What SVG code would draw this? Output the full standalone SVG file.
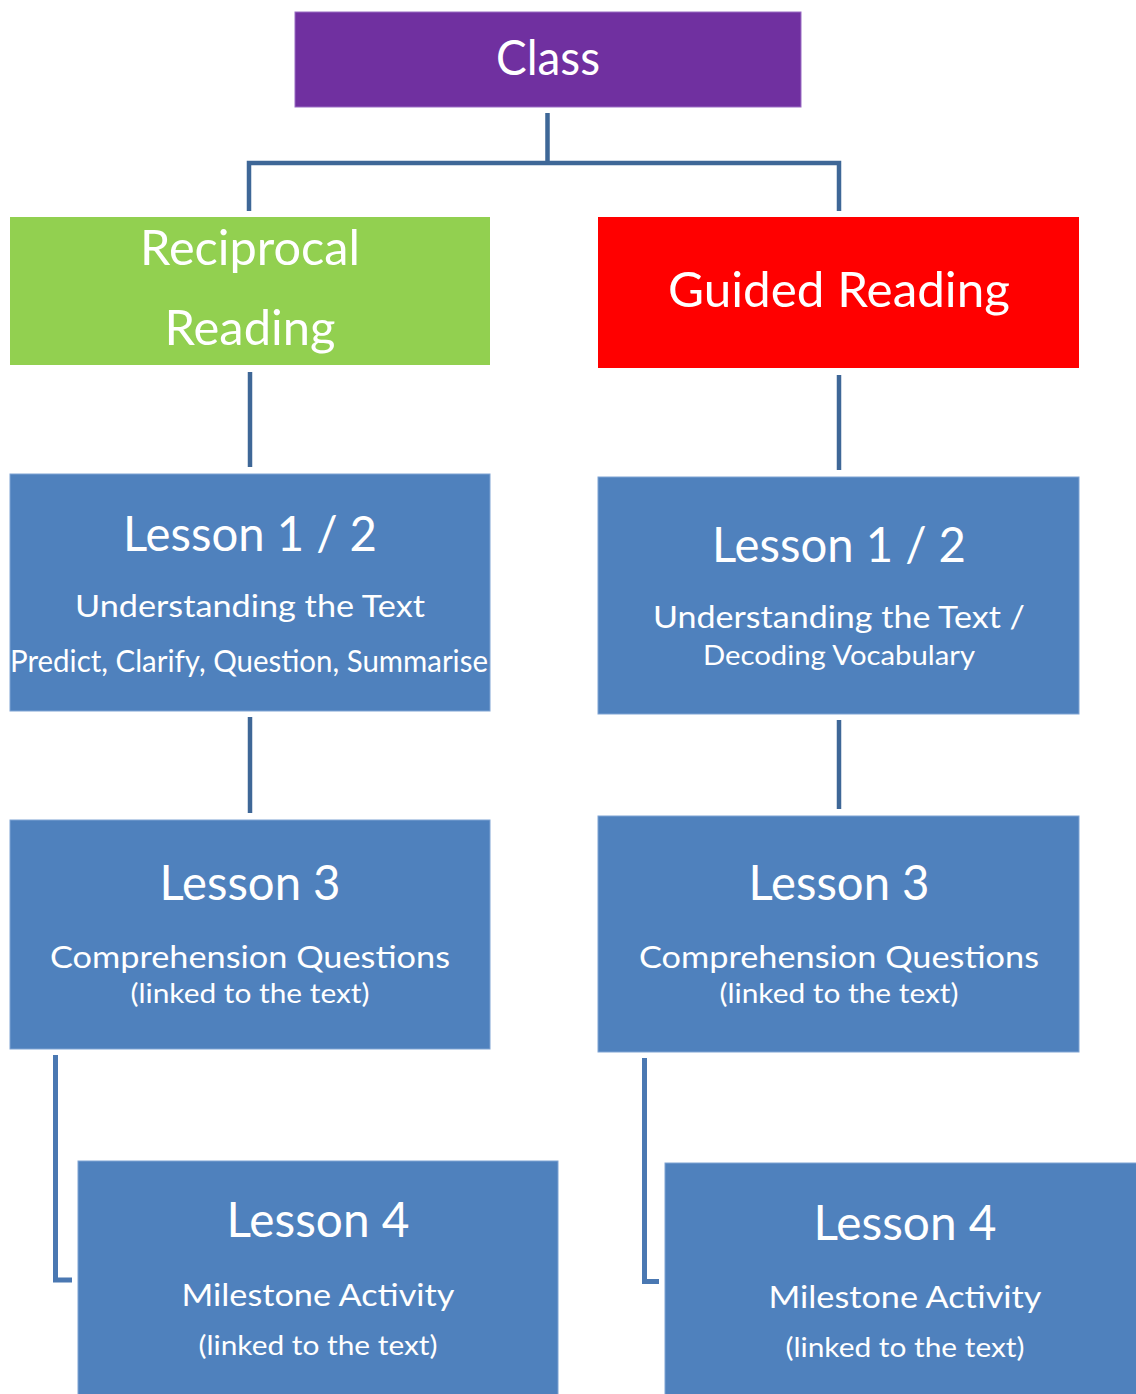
<svg xmlns="http://www.w3.org/2000/svg" width="1136" height="1394" viewBox="0 0 1136 1394">
  <style>
    text { font-family: Lato, "Open Sans", "Liberation Sans", sans-serif; fill: #ffffff; text-anchor: middle; }
    .big { font-size: 48px; }
    .mid { font-size: 31px; }
    .sm { font-size: 27px; }
    .box { fill: #4F81BD; stroke: #7FA3D3; stroke-width: 1; }
    .conn { fill: none; stroke: #3E6797; stroke-width: 4.5; }
    .elbow { fill: none; stroke: #4A78B2; stroke-width: 5; }
  </style>
  <rect width="1136" height="1394" fill="#ffffff"/>
  <g id="connectors">
    <path class="conn" d="M547.5 113 V163 M249 211 V163 H839 V211"/>
    <path class="conn" d="M250 372 V467"/>
    <path class="conn" d="M839 375 V470"/>
    <path class="conn" d="M250 717 V813"/>
    <path class="conn" d="M839 720 V809"/>
    <path class="elbow" d="M55.5 1055 V1280 H72"/>
    <path class="elbow" d="M644.5 1058 V1281.5 H659"/>
  </g>
  <g id="class">
    <rect x="295" y="12" width="506" height="95" fill="#7030A0" stroke="#9A6CC4" stroke-width="1"/>
    <text class="big" x="548" y="75" textLength="104" lengthAdjust="spacingAndGlyphs">Class</text>
  </g>
  <g id="reciprocal">
    <rect x="10" y="217" width="480" height="148" fill="#92D050"/>
    <text class="big" x="250" y="265" textLength="220" lengthAdjust="spacingAndGlyphs">Reciprocal</text>
    <text class="big" x="250" y="345" textLength="171" lengthAdjust="spacingAndGlyphs">Reading</text>
  </g>
  <g id="guided">
    <rect x="598" y="217" width="481" height="151" fill="#FF0000"/>
    <text class="big" x="839" y="307" textLength="342" lengthAdjust="spacingAndGlyphs">Guided Reading</text>
  </g>
  <g id="rr-lesson12">
    <rect class="box" x="10" y="474" width="480" height="237"/>
    <text class="big" x="250" y="551" textLength="254" lengthAdjust="spacingAndGlyphs">Lesson 1 / 2</text>
    <text class="mid" x="250" y="617" textLength="350" lengthAdjust="spacingAndGlyphs">Understanding the Text</text>
    <text class="mid" x="249" y="672" textLength="478" lengthAdjust="spacingAndGlyphs">Predict, Clarify, Question, Summarise</text>
  </g>
  <g id="gr-lesson12">
    <rect class="box" x="598" y="477" width="481" height="237"/>
    <text class="big" x="839" y="562" textLength="254" lengthAdjust="spacingAndGlyphs">Lesson 1 / 2</text>
    <text class="mid" x="839" y="628" textLength="372" lengthAdjust="spacingAndGlyphs">Understanding the Text /</text>
    <text class="sm" x="839" y="665" textLength="272" lengthAdjust="spacingAndGlyphs">Decoding Vocabulary</text>
  </g>
  <g id="rr-lesson3">
    <rect class="box" x="10" y="820" width="480" height="229"/>
    <text class="big" x="250" y="900" textLength="181" lengthAdjust="spacingAndGlyphs">Lesson 3</text>
    <text class="mid" x="250" y="968" textLength="400" lengthAdjust="spacingAndGlyphs">Comprehension Questions</text>
    <text class="sm" x="250" y="1003" textLength="239" lengthAdjust="spacingAndGlyphs">(linked to the text)</text>
  </g>
  <g id="gr-lesson3">
    <rect class="box" x="598" y="816" width="481" height="236"/>
    <text class="big" x="839" y="900" textLength="181" lengthAdjust="spacingAndGlyphs">Lesson 3</text>
    <text class="mid" x="839" y="968" textLength="400" lengthAdjust="spacingAndGlyphs">Comprehension Questions</text>
    <text class="sm" x="839" y="1003" textLength="239" lengthAdjust="spacingAndGlyphs">(linked to the text)</text>
  </g>
  <g id="rr-lesson4">
    <rect class="box" x="78" y="1161" width="480" height="240"/>
    <text class="big" x="318" y="1237" textLength="183" lengthAdjust="spacingAndGlyphs">Lesson 4</text>
    <text class="mid" x="318" y="1306" textLength="273" lengthAdjust="spacingAndGlyphs">Milestone Activity</text>
    <text class="sm" x="318" y="1355" textLength="239" lengthAdjust="spacingAndGlyphs">(linked to the text)</text>
  </g>
  <g id="gr-lesson4">
    <rect class="box" x="665" y="1163" width="480" height="240"/>
    <text class="big" x="905" y="1240" textLength="183" lengthAdjust="spacingAndGlyphs">Lesson 4</text>
    <text class="mid" x="905" y="1308" textLength="273" lengthAdjust="spacingAndGlyphs">Milestone Activity</text>
    <text class="sm" x="905" y="1357" textLength="239" lengthAdjust="spacingAndGlyphs">(linked to the text)</text>
  </g>
</svg>
